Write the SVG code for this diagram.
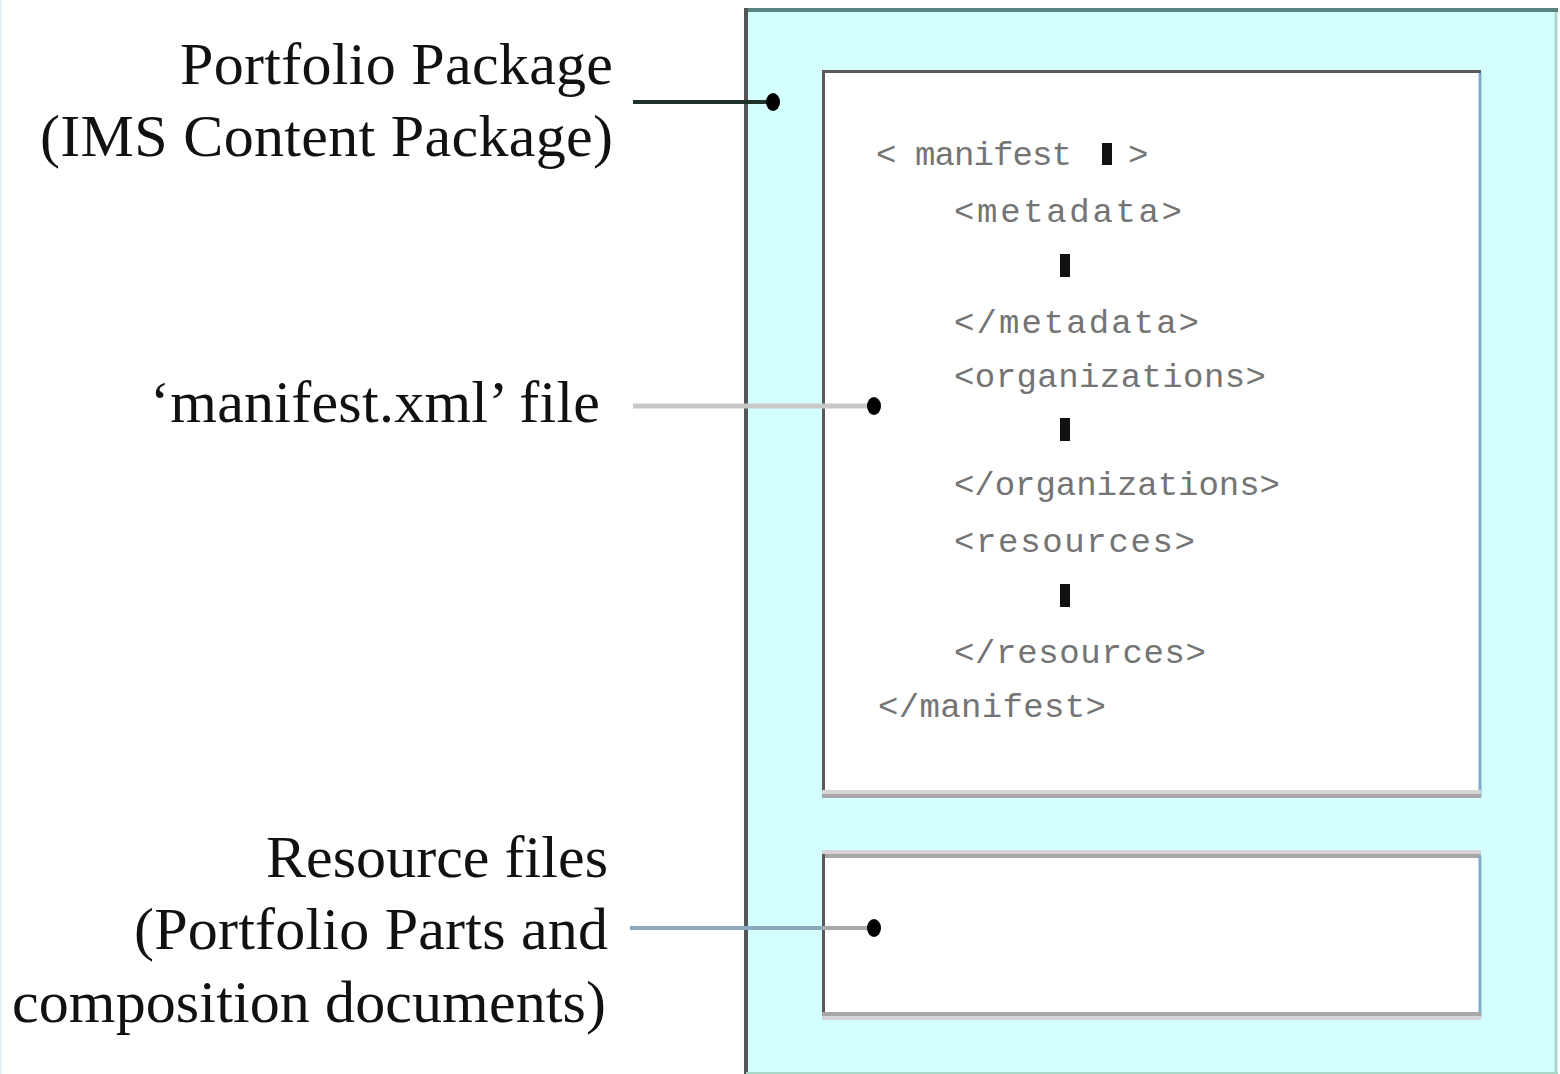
<svg xmlns="http://www.w3.org/2000/svg" width="1560" height="1074" viewBox="0 0 1560 1074">
  <style>
    .lbl { font-family: "Liberation Serif", "Times New Roman", serif; font-size: 60px; fill: #111; text-anchor: end; }
    .code { font-family: "Liberation Mono", "Courier New", monospace; font-size: 34px; fill: #747474; }
    .bar { fill: #111; }
    .dot { fill: #000; }
  </style>
  <rect x="0" y="0" width="1560" height="1074" fill="#ffffff"/>
  <line x1="1" y1="0" x2="1" y2="1074" stroke="#e4f0f4" stroke-width="2"/>

  <g id="portfolio-package">
    <rect x="746" y="10" width="810" height="1070" fill="#d4ffff"/>
    <line x1="744" y1="10" x2="1558" y2="10" stroke="#5a8480" stroke-width="4"/>
    <line x1="746" y1="8" x2="746" y2="1074" stroke="#555" stroke-width="4"/>
    <line x1="1556" y1="12" x2="1556" y2="1074" stroke="#a8d8c8" stroke-width="3"/>
    <line x1="746" y1="1073" x2="1558" y2="1073" stroke="#a8d8c8" stroke-width="2"/>
  </g>

  <g id="manifest-file">
    <rect x="822" y="70" width="658" height="725" fill="#ffffff"/>
    <line x1="822" y1="71.5" x2="1481" y2="71.5" stroke="#5a5a5a" stroke-width="3"/>
    <line x1="823.5" y1="70" x2="823.5" y2="797" stroke="#5a5a5a" stroke-width="3"/>
    <line x1="1480" y1="73" x2="1480" y2="797" stroke="#80acc8" stroke-width="3"/>
    <line x1="822" y1="792" x2="1481" y2="792" stroke="#d4d4d4" stroke-width="4"/>
    <line x1="822" y1="796" x2="1481" y2="796" stroke="#a8a8a8" stroke-width="4"/>
    <text class="code" x="876" y="165" textLength="196">&lt; manifest</text>
    <rect class="bar" x="1102" y="143" width="10" height="22"/>
    <text class="code" x="1128" y="165">&gt;</text>
    <text class="code" x="954" y="222" textLength="228">&lt;metadata&gt;</text>
    <rect class="bar" x="1060" y="254" width="10" height="23"/>
    <text class="code" x="954" y="333" textLength="245">&lt;/metadata&gt;</text>
    <text class="code" x="954" y="387" textLength="312">&lt;organizations&gt;</text>
    <rect class="bar" x="1060" y="418" width="10" height="23"/>
    <text class="code" x="954" y="495" textLength="326">&lt;/organizations&gt;</text>
    <text class="code" x="954" y="552" textLength="241">&lt;resources&gt;</text>
    <rect class="bar" x="1060" y="584" width="10" height="23"/>
    <text class="code" x="954" y="663" textLength="252">&lt;/resources&gt;</text>
    <text class="code" x="878" y="717" textLength="228">&lt;/manifest&gt;</text>
  </g>

  <g id="resource-files">
    <rect x="822" y="853" width="658" height="165" fill="#ffffff"/>
    <line x1="822" y1="852" x2="1481" y2="852" stroke="#d4d4d4" stroke-width="4"/>
    <line x1="822" y1="856" x2="1481" y2="856" stroke="#a8a8a8" stroke-width="4"/>
    <line x1="823.5" y1="854" x2="823.5" y2="1017" stroke="#5a5a5a" stroke-width="3"/>
    <line x1="1480" y1="856" x2="1480" y2="1017" stroke="#80acc8" stroke-width="3"/>
    <line x1="822" y1="1014" x2="1481" y2="1014" stroke="#a8a8a8" stroke-width="4"/>
    <line x1="822" y1="1018" x2="1481" y2="1018" stroke="#d4d4d4" stroke-width="4"/>
  </g>

  <g id="label-portfolio-package">
    <text class="lbl" x="613" y="84" textLength="433">Portfolio Package</text>
    <text class="lbl" x="613" y="156" textLength="573">(IMS Content Package)</text>
  </g>

  <g id="label-manifest">
    <text class="lbl" x="600" y="422" textLength="450">‘manifest.xml’ file</text>
  </g>

  <g id="label-resources">
    <text class="lbl" x="608" y="877" textLength="342">Resource files</text>
    <text class="lbl" x="608" y="949" textLength="474">(Portfolio Parts and</text>
    <text class="lbl" x="606" y="1022" textLength="594">composition documents)</text>
  </g>

  <g id="connectors">
    <line x1="633" y1="102" x2="773" y2="102" stroke="#1e3228" stroke-width="4"/>
    <ellipse class="dot" cx="773" cy="102" rx="7" ry="9"/>
    <line x1="633" y1="406" x2="874" y2="406" stroke="#c8c8c8" stroke-width="5"/>
    <ellipse class="dot" cx="874" cy="406" rx="7" ry="9"/>
    <line x1="630" y1="928" x2="822" y2="928" stroke="#8aaac0" stroke-width="4"/>
    <line x1="822" y1="928" x2="874" y2="928" stroke="#a8a8a8" stroke-width="4"/>
    <ellipse class="dot" cx="874" cy="928" rx="7" ry="9"/>
  </g>
</svg>
